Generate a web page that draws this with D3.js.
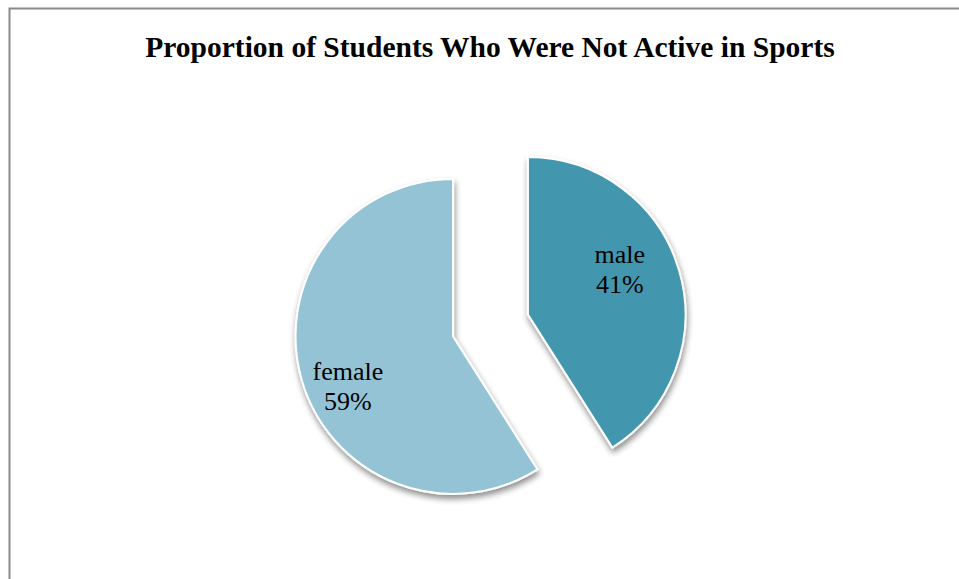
<!DOCTYPE html>
<html>
<head>
<meta charset="utf-8">
<script src="https://cdn.jsdelivr.net/npm/d3@7"></script>
<style>
  html, body { margin: 0; padding: 0; background: #fff; }
  svg { display: block; }
</style>
</head>
<body>
<svg id="chart" width="959" height="579"></svg>
<script>
const categories = ["male", "female"];
const values = [41, 59];
const percentLabels = ["41%", "59%"];
const title = "Proportion of Students Who Were Not Active in Sports";

const colors = ["#4397AF", "#93C3D5"];

const svg = d3.select("#chart");
const W = 959, H = 579;

svg.append("rect").attr("width", W).attr("height", H).attr("fill", "#fff");
svg.append("rect")
  .attr("x", 9.5).attr("y", 8.5)
  .attr("width", W + 20).attr("height", H + 20)
  .attr("fill", "none").attr("stroke", "#8a8a8a").attr("stroke-width", 2);

svg.append("text")
  .attr("x", 490).attr("y", 57)
  .attr("text-anchor", "middle")
  .attr("font-family", "'Liberation Serif', 'Times New Roman', serif")
  .attr("font-weight", "bold")
  .attr("font-size", 29.5)
  .attr("fill", "#000")
  .text(title);

const defs = svg.append("defs");
const f = defs.append("filter").attr("id", "shadow")
  .attr("x", "-20%").attr("y", "-20%").attr("width", "140%").attr("height", "140%");
f.append("feGaussianBlur").attr("in", "SourceAlpha").attr("stdDeviation", 3).attr("result", "b");
f.append("feOffset").attr("in", "b").attr("dx", 1).attr("dy", 4).attr("result", "o");
f.append("feComponentTransfer").attr("in", "o").attr("result", "o2")
  .append("feFuncA").attr("type", "linear").attr("slope", 0.45);
const m = f.append("feMerge");
m.append("feMergeNode").attr("in", "o2");
m.append("feMergeNode").attr("in", "SourceGraphic");

const cx = 490.5, cy = 325.5, R = 157.5, explode = 39;
const data = categories.map((c, i) => ({ cat: c, value: values[i], pct: percentLabels[i], color: colors[i] }));

const pie = d3.pie().value(d => d.value).sort(null).startAngle(0).endAngle(2 * Math.PI);
const arc = d3.arc().innerRadius(0).outerRadius(R);
const arcs = pie(data);

// label placement (polar, relative to slice centre): angle in degrees clockwise from top, radius
const labelPolar = [[66.7, 100], [242.1, 119]];

const g = svg.append("g").attr("transform", `translate(${cx},${cy})`);
const slices = g.selectAll("g.slice").data(arcs).enter().append("g")
  .attr("class", "slice")
  .attr("transform", d => {
    const mid = (d.startAngle + d.endAngle) / 2;
    return `translate(${Math.sin(mid) * explode},${-Math.cos(mid) * explode})`;
  });

slices.append("path")
  .attr("d", arc)
  .attr("fill", d => d.data.color)
  .attr("stroke", "#fff")
  .attr("stroke-width", 2)
  .attr("stroke-linejoin", "round")
  .attr("filter", "url(#shadow)");

slices.each(function(d, i) {
  const a = labelPolar[i][0] * Math.PI / 180, r = labelPolar[i][1];
  const x = Math.sin(a) * r, y = -Math.cos(a) * r;
  const t = d3.select(this).append("text")
    .attr("text-anchor", "middle")
    .attr("font-family", "'Liberation Serif', 'Times New Roman', serif")
    .attr("font-size", 26)
    .attr("fill", "#000");
  t.append("tspan").attr("x", x).attr("y", y - 12).text(d.data.cat);
  t.append("tspan").attr("x", x).attr("y", y + 18).text(d.data.pct);
});
</script>
</body>
</html>
